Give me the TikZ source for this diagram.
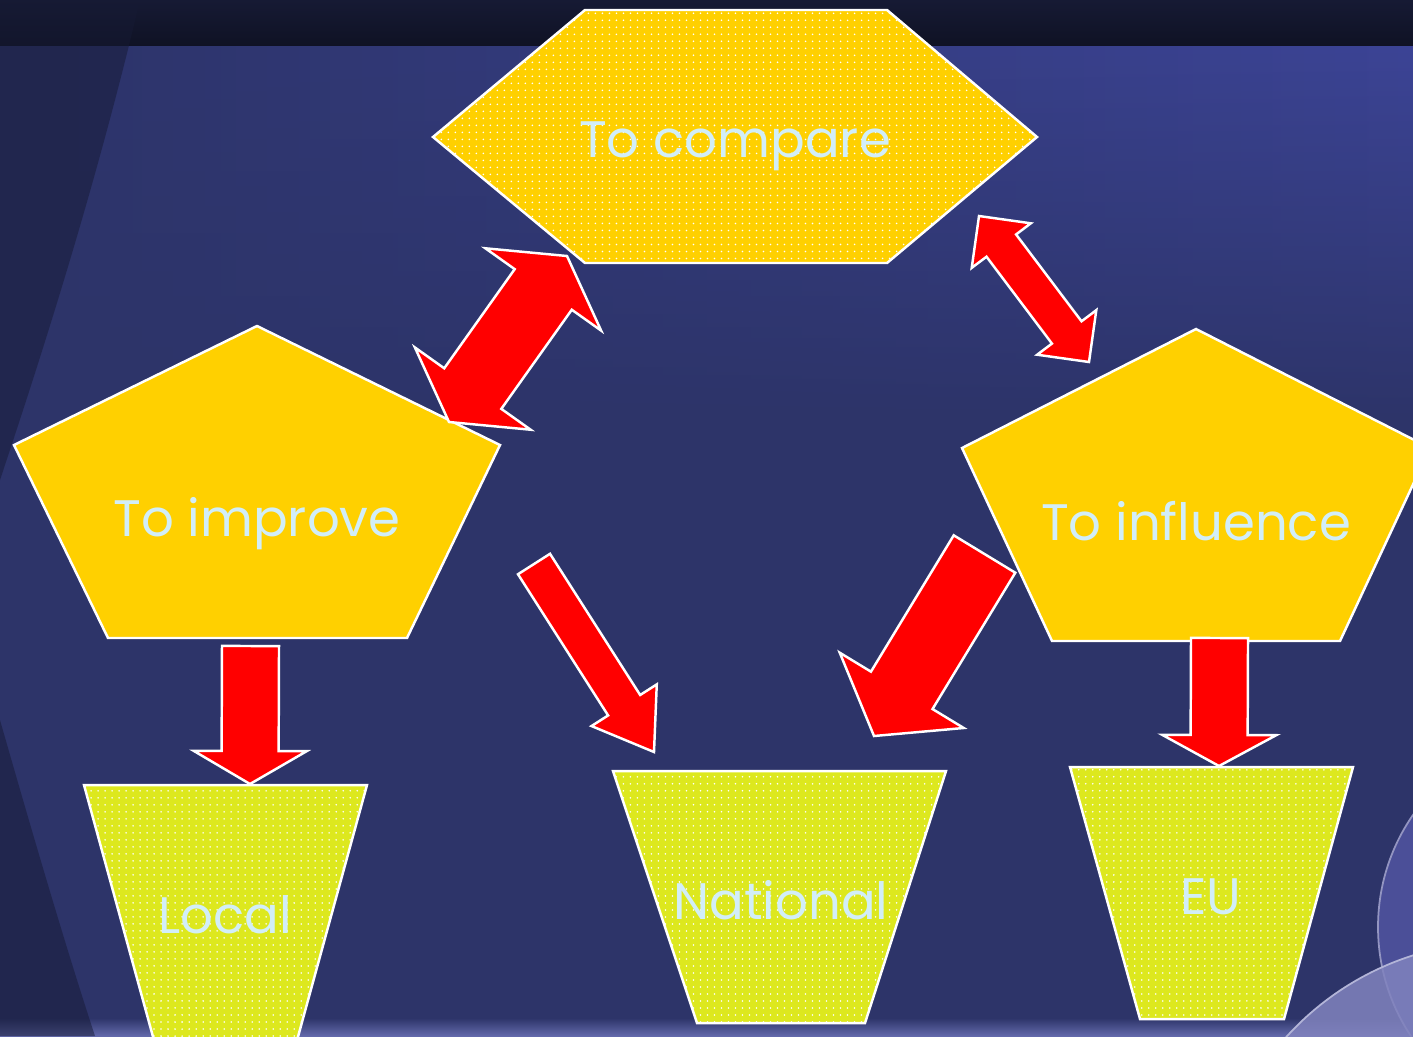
\documentclass[tikz,border=0pt]{standalone}
\usepackage{fontspec}
\setmainfont{Poppins}
\usetikzlibrary{calc,patterns.meta,fadings}
\definecolor{navy}{HTML}{2D3469}
\definecolor{navytop}{HTML}{3C4496}
\definecolor{navydeep}{HTML}{161A34}
\definecolor{streak}{HTML}{3C4463}
\definecolor{gold}{HTML}{FFD000}
\definecolor{lime}{HTML}{DDE81E}
\definecolor{ice}{HTML}{D2EEF8}
\definecolor{lilac}{HTML}{4B4F98}
\definecolor{lilaclight}{HTML}{8183BE}

\begin{document}
\begin{tikzpicture}[x=0.01cm,y=-0.01cm]

	\tikzstyle{plate}=[draw=white,line width=0.7pt,line join=miter]
	\tikzstyle{dot-gold}=[preaction={fill=gold},pattern={Dots[distance=0.07cm,radius=0.25pt]},pattern color=white]
	\tikzstyle{dot-lime}=[preaction={fill=lime},pattern={Dots[distance=0.07cm,radius=0.25pt]},pattern color=white]
	\tikzstyle{lbl}=[text=ice,anchor=base,inner sep=0pt,font=\fontsize{14.6pt}{17pt}\selectfont]
	\tikzstyle{redarrow}=[fill=red,draw=white,line width=0.7pt,line join=miter]

	% block arrows: tail, tip, shaft half width, head half width, head length
	\def\onearrow#1#2#3#4#5{
		\coordinate (h) at ($(#2)!#5!(#1)$);
		\filldraw[redarrow] ($(#1)!#3!90:(#2)$) -- ($(h)!#3!90:(#2)$) -- ($(h)!#4!90:(#2)$) -- (#2)
			-- ($(h)!#4!-90:(#2)$) -- ($(h)!#3!-90:(#2)$) -- ($(#1)!#3!-90:(#2)$) -- cycle;
	}
	\def\twoarrow#1#2#3#4#5{
		\coordinate (ha) at ($(#1)!#5!(#2)$);
		\coordinate (hb) at ($(#2)!#5!(#1)$);
		\filldraw[redarrow] (#1) -- ($(ha)!#4!90:(#2)$) -- ($(ha)!#3!90:(#2)$) -- ($(hb)!#3!90:(#2)$)
			-- ($(hb)!#4!90:(#2)$) -- (#2) -- ($(hb)!#4!-90:(#2)$) -- ($(hb)!#3!-90:(#2)$)
			-- ($(ha)!#3!-90:(#2)$) -- ($(ha)!#4!-90:(#2)$) -- cycle;
	}

	\useasboundingbox (0,0) rectangle (1413,1036);
	\clip (0,0) rectangle (1413,1036);

	% background
	\fill[navy] (0,0) rectangle (1413,1036);
	\shade[left color=navy,right color=navytop,path fading=south] (0,45) rectangle (1413,420);
	\shade[top color=navydeep,middle color=streak,bottom color=navydeep!70!black] (0,0) rectangle (1413,45);
	\fill[navydeep,opacity=0.5] (0,0) -- (140,0) .. controls (95,190) and (40,360) .. (0,480) -- cycle;
	\shade[top color=navy,bottom color=navytop!80!white] (0,1018) rectangle (1413,1036);
	\fill[navydeep,opacity=0.5] (0,720) .. controls (40,860) and (70,960) .. (95,1036) -- (0,1036) -- cycle;
	\fill[lilac,draw=lilac!60!white,line width=0.5pt] (1575,927) circle (197);
	\fill[lilaclight,fill opacity=0.85,draw=lilaclight!60!white,line width=0.5pt] (1500,1230) circle (288);

	% aims
	\draw[plate,dot-gold] (585,10) -- (887,10) -- (1037,137) -- (887,263) -- (585,263) -- (433,137) -- cycle;
	\filldraw[plate,fill=gold] (257,326) -- (500,445) -- (407,638) -- (108,638) -- (14,445) -- cycle;
	\filldraw[plate,fill=gold] (1196,329) -- (1430,448) -- (1340,641) -- (1052,641) -- (962,448) -- cycle;
	\node[lbl] (compare) at (735,157) {To compare};
	\node[lbl] (improve) at (257,536) {To improve};
	\node[lbl] (influence) at (1196,540) {To influence};

	% levels
	\draw[plate,dot-lime] (84,785) -- (367,785) -- (293,1055) -- (158,1055) -- cycle;
	\draw[plate,dot-lime] (613,771) -- (946,771) -- (865,1023) -- (697,1023) -- cycle;
	\draw[plate,dot-lime] (1070,767) -- (1353,767) -- (1284,1019) -- (1140,1019) -- cycle;
	\node[lbl] (local) at (225,933) {Local};
	\node[lbl] (national) at (781,919) {National};
	\node[lbl] (eu) at (1211,914) {EU};

	% arrow ends
	\coordinate (cmp-l) at (567,256);
	\coordinate (imp-r) at (449,422);
	\coordinate (cmp-r) at (979,216);
	\coordinate (inf-l) at (1089,362);
	\coordinate (imp-out) at (534,564);
	\coordinate (nat-l) at (654,752);
	\coordinate (inf-out) at (984.5,554);
	\coordinate (nat-r) at (874,736);
	\coordinate (inf-down) at (1219.5,638);
	\coordinate (eu-top) at (1219,766);
	\coordinate (imp-down) at (250.5,646);
	\coordinate (loc-top) at (250,784);

	% arrows
	\twoarrow{cmp-l}{imp-r}{0.35cm}{0.71cm}{0.41cm}
	\twoarrow{cmp-r}{inf-l}{0.185cm}{0.37cm}{0.37cm}
	\onearrow{imp-out}{nat-l}{0.19cm}{0.387cm}{0.555cm}
	\onearrow{inf-out}{nat-r}{0.36cm}{0.725cm}{0.534cm}
	\onearrow{inf-down}{eu-top}{0.285cm}{0.57cm}{0.31cm}
	\onearrow{imp-down}{loc-top}{0.285cm}{0.565cm}{0.33cm}
\end{tikzpicture}
\end{document}
